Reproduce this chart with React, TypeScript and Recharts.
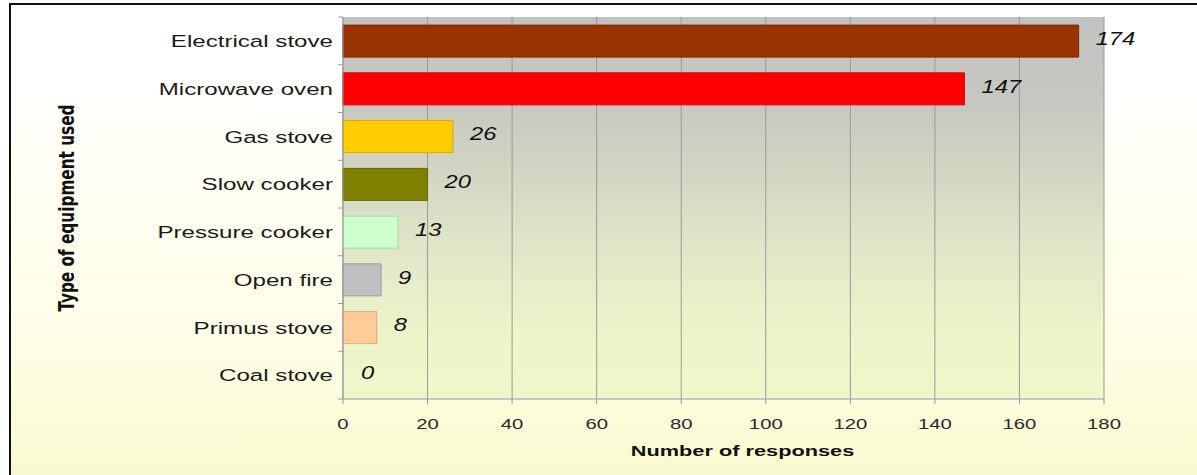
import React from "react";
import { BarChart, Bar, XAxis, YAxis, CartesianGrid, Cell, LabelList } from "recharts";

const categories = [
  "Electrical stove",
  "Microwave oven",
  "Gas stove",
  "Slow cooker",
  "Pressure cooker",
  "Open fire",
  "Primus stove",
  "Coal stove",
];
const responses = [174, 147, 26, 20, 13, 9, 8, 0];
const barColors = ["#993300", "#ff0000", "#ffcc00", "#7f7f00", "#ccffcc", "#c0c0c0", "#ffcc99", "none"];
const barStrokes = ["#7a2a00", "#d80000", "#d9aa00", "#666600", "#a9d6a9", "#9a9a9a", "#deaa80", "none"];
const xTicks = [0, 20, 40, 60, 80, 100, 120, 140, 160, 180];
const xTitle = "Number of responses";
const yTitle = "Type of equipment used";

const data = categories.map((name, i) => ({ name, value: responses[i] }));

const W = 1197;
const H = 475;
const TOP = 17;
const X_AXIS_H = 76;
const PLOT_H = H - TOP - X_AXIS_H;
const BAND = PLOT_H / categories.length;

const YTick = (props: any) => {
  const { x, y, payload, index } = props;
  const last = index === categories.length - 1;
  return (
    <g>
      <line x1={x + 5} x2={x + 10} y1={y - BAND / 2} y2={y - BAND / 2} stroke="#999" />
      {last && <line x1={x + 5} x2={x + 10} y1={y + BAND / 2} y2={y + BAND / 2} stroke="#999" />}
      <g transform={`translate(${x},${y})`}>
        <text
          transform="scale(1.42,1)"
          textAnchor="end"
          dy="0.36em"
          fontFamily="'Liberation Sans', Arial, sans-serif"
          fontSize={17}
          fill="#1a1a1a"
        >
          {payload.value}
        </text>
      </g>
    </g>
  );
};

const XTick = (props: any) => {
  const { x, y, payload } = props;
  return (
    <g transform={`translate(${x},${y})`}>
      <text
        transform="scale(1.4,1)"
        textAnchor="middle"
        dy="0.71em"
        fontFamily="'Liberation Sans', Arial, sans-serif"
        fontSize={14.5}
        fill="#2a2a2a"
      >
        {payload.value}
      </text>
    </g>
  );
};

const ValueLabel = (props: any) => {
  const { x, y, width, height, value } = props;
  return (
    <g transform={`translate(${Number(x) + Number(width) + 17},${Number(y) + Number(height) / 2 - 3})`}>
      <text
        transform="scale(1.25,1)"
        dy="0.36em"
        fontFamily="'Liberation Sans', Arial, sans-serif"
        fontStyle="italic"
        fontSize={19}
        fill="#111"
      >
        {value}
      </text>
    </g>
  );
};

const XTitle = (props: any) => {
  const vb = props.viewBox || { x: 0, y: 0, width: 0, height: 0 };
  const cx = vb.x + vb.width / 2 + 19;
  return (
    <g transform={`translate(${cx},${vb.y + 57})`}>
      <text
        transform="scale(1.45,1)"
        textAnchor="middle"
        fontFamily="'Liberation Sans', Arial, sans-serif"
        fontWeight="bold"
        fontSize={15}
        fill="#111"
      >
        {xTitle}
      </text>
    </g>
  );
};

const YTitle = (props: any) => {
  const vb = props.viewBox || { x: 0, y: 0, width: 0, height: 0 };
  const cy = vb.y + vb.height / 2;
  return (
    <text
      transform={`translate(67,${cy}) rotate(-90) scale(1,1.2)`}
      textAnchor="middle"
      dy="0.36em"
      fontFamily="'Liberation Sans Narrow', 'DejaVu Sans Condensed', Arial, sans-serif"
      fontWeight="bold"
      fontSize={17}
      fill="#111"
    >
      {yTitle}
    </text>
  );
};

export default function App() {
  return (
    <div style={{ position: "absolute", left: 0, top: 0, width: W, height: H, overflow: "hidden" }}>
      <div
        style={{
          position: "absolute",
          left: 9,
          top: 3,
          width: W + 20,
          height: H + 20,
          borderTop: "2.5px solid #111",
          borderLeft: "2.5px solid #111",
          background:
            "linear-gradient(to bottom, #ffffff 0%, #ffffff 14%, #fffff2 40%, #fefee6 70%, #fbfbd6 88%, #f7f8cc 100%)",
        }}
      />
      <svg width={0} height={0} style={{ position: "absolute" }}>
        <defs>
          <linearGradient id="plotBg" x1="0" y1="0" x2="0" y2="1">
            <stop offset="0%" stopColor="#c2c2c2" />
            <stop offset="22%" stopColor="#c6c7c0" />
            <stop offset="45%" stopColor="#d6d9c4" />
            <stop offset="65%" stopColor="#e4e9c9" />
            <stop offset="82%" stopColor="#edf4c9" />
            <stop offset="100%" stopColor="#f0f7cb" />
          </linearGradient>
        </defs>
      </svg>
      <div style={{ position: "absolute", left: 0, top: 0 }}>
        <BarChart
          width={W}
          height={H}
          data={data}
          layout="vertical"
          margin={{ top: TOP, right: 93, bottom: 0, left: 0 }}
          barCategoryGap="17%"
        >
          <CartesianGrid
            horizontal={false}
            vertical={true}
            stroke="#999"
            fill="url(#plotBg)"
            fillOpacity={1}
          />
          <XAxis
            type="number"
            domain={[0, 180]}
            ticks={xTicks}
            height={X_AXIS_H}
            axisLine={{ stroke: "#999" }}
            tickLine={{ stroke: "#999" }}
            tickSize={5}
            tickMargin={15}
            tick={<XTick />}
            label={<XTitle />}
          />
          <YAxis
            type="category"
            dataKey="name"
            width={343}
            axisLine={{ stroke: "#999" }}
            tickLine={false}
            tickSize={0}
            tickMargin={10}
            interval={0}
            tick={<YTick />}
            label={<YTitle />}
          />
          <Bar dataKey="value" isAnimationActive={false} minPointSize={1}>
            {data.map((d, i) => (
              <Cell key={d.name} fill={barColors[i]} stroke={barStrokes[i]} strokeWidth={1} />
            ))}
            <LabelList dataKey="value" content={<ValueLabel />} />
          </Bar>
        </BarChart>
      </div>
    </div>
  );
}
